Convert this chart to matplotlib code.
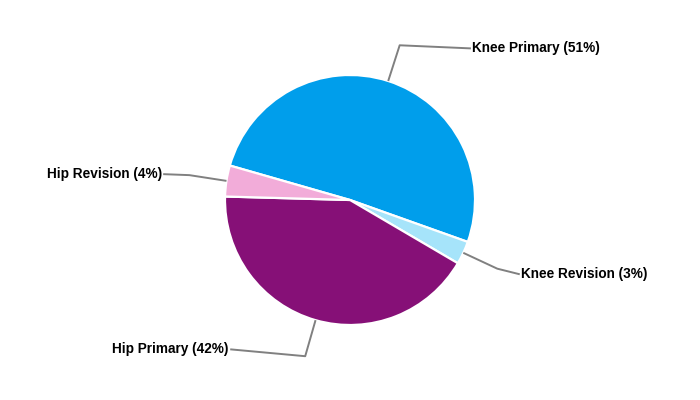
import numpy as np
import matplotlib.pyplot as plt

# Procedure mix
labels = ["Knee Primary", "Knee Revision", "Hip Primary", "Hip Revision"]
shares = [51, 3, 42, 4]
colors = ["#009EEB", "#A6E4FA", "#861077", "#F2ACD9"]

# leader line horizontal run (in radii) and small vertical drift of the text
runs = [0.57, 0.18, 0.60, 0.21]
drifts = [-0.025, -0.045, 0.055, 0.008]

plt.rcParams["font.family"] = ["Liberation Sans", "DejaVu Sans"]

fig = plt.figure(figsize=(7, 4), dpi=100)
ax = fig.add_axes([0, 0, 1, 1])

start = 164
wedges, _ = ax.pie(shares, colors=colors, startangle=start, counterclock=False,
                   radius=1, wedgeprops=dict(edgecolor="white", linewidth=1.6))

for w, lab, val, run, dy in zip(wedges, labels, shares, runs, drifts):
    mid = np.deg2rad((w.theta1 + w.theta2) / 2)
    x0, y0 = np.cos(mid), np.sin(mid)
    x1, y1 = 1.3 * x0, 1.3 * y0
    side = 1 if x0 > 0 else -1
    x2, y2 = x1 + side * run, y1 + dy
    ax.plot([x0, x1, x2], [y0, y1, y2], color="#808080", lw=1.4,
            solid_capstyle="butt")
    ax.text(x2 + side * 0.012, y2, f"{lab} ({val}%)", fontsize=9.8,
            fontweight="bold", ha="left" if side > 0 else "right", va="center")

ax.set_xlim(-2.8, 2.8)
ax.set_ylim(-1.6, 1.6)
ax.set_aspect("equal")
ax.axis("off")

fig.savefig("out.png", dpi=100)
